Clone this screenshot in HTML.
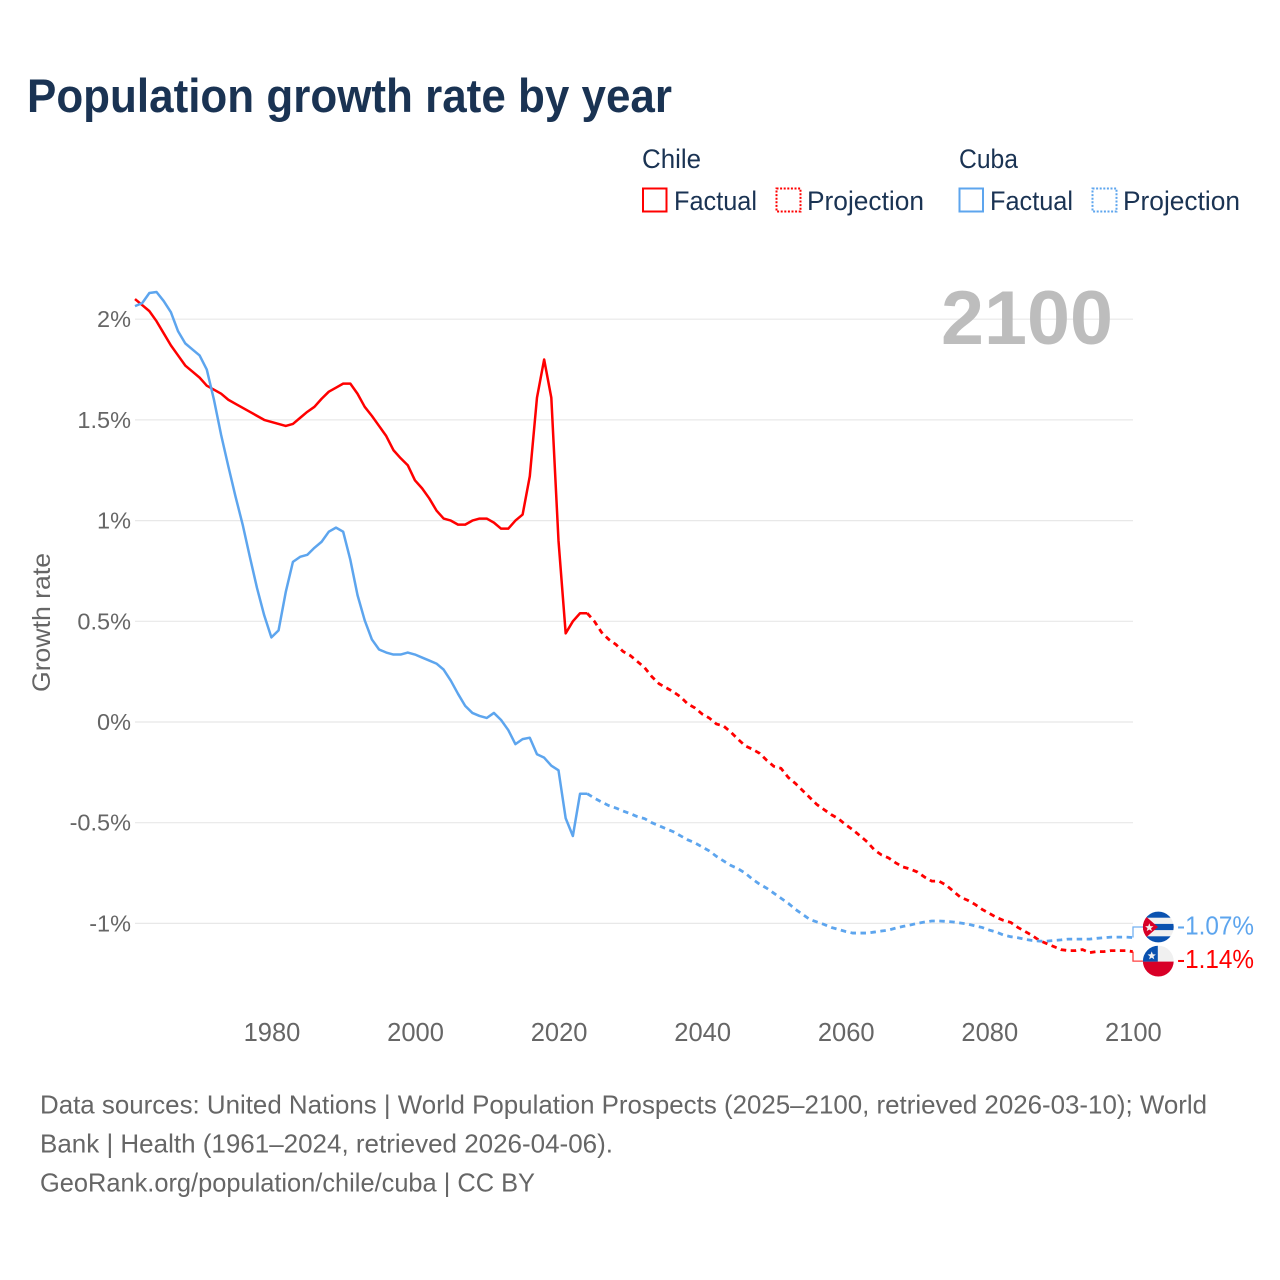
<!DOCTYPE html>
<html lang="en">
<head>
<meta charset="utf-8">
<title>Population growth rate by year</title>
<style>
  html, body { margin: 0; padding: 0; background: #fff; }
  svg { display: block; font-family: "Liberation Sans", sans-serif; }
</style>
</head>
<body>
<svg id="chart" xmlns="http://www.w3.org/2000/svg" width="1280" height="1280" viewBox="0 0 1280 1280">
  <rect x="0" y="0" width="1280" height="1280" fill="#ffffff"/>
  <defs>
    <clipPath id="clip-cuba-flag"><circle id="cuba-clip-circle" cx="1158.3" cy="927" r="15.4"/></clipPath>
    <clipPath id="clip-chile-flag"><circle id="chile-clip-circle" cx="1158.3" cy="961" r="15.4"/></clipPath>
  </defs>

  <text x="27" y="112" font-size="47" font-weight="700" fill="#1a3353" textLength="645" lengthAdjust="spacingAndGlyphs">Population growth rate by year</text>

  <g font-size="26.5" fill="#1a3353">
    <text x="642" y="168" textLength="59" lengthAdjust="spacingAndGlyphs">Chile</text>
    <text x="959" y="168" textLength="59" lengthAdjust="spacingAndGlyphs">Cuba</text>
    <rect x="643" y="188.5" width="23.5" height="23" fill="none" stroke="#ff0000" stroke-width="2"/>
    <text x="674" y="210" textLength="83" lengthAdjust="spacingAndGlyphs">Factual</text>
    <rect x="776.5" y="188.5" width="24" height="23" fill="none" stroke="#ff0000" stroke-width="2" stroke-dasharray="2 1.6"/>
    <text x="807" y="210" textLength="117" lengthAdjust="spacingAndGlyphs">Projection</text>
    <rect x="959.5" y="188.5" width="23.5" height="23" fill="none" stroke="#5da5ee" stroke-width="2"/>
    <text x="990" y="210" textLength="83" lengthAdjust="spacingAndGlyphs">Factual</text>
    <rect x="1092.5" y="188.5" width="24" height="23" fill="none" stroke="#5da5ee" stroke-width="2" stroke-dasharray="2 1.6"/>
    <text x="1123" y="210" textLength="117" lengthAdjust="spacingAndGlyphs">Projection</text>
  </g>

  <text transform="translate(50,622.5) rotate(-90)" text-anchor="middle" font-size="25" fill="#666666" textLength="139" lengthAdjust="spacingAndGlyphs">Growth rate</text>
  <g id="grid"></g>
  <g id="y-ticks"></g>
  <g id="x-ticks"></g>

  <text x="941" y="344" font-size="76" font-weight="700" fill="#bdbdbd" textLength="172" lengthAdjust="spacingAndGlyphs">2100</text>

  <g id="series"></g>

  <g id="cuba-flag" clip-path="url(#clip-cuba-flag)"></g>
  <g id="chile-flag" clip-path="url(#clip-chile-flag)"></g>
  <g id="end-labels"></g>

  <g font-size="26" fill="#666666">
    <text x="40" y="1113.5" textLength="1167" lengthAdjust="spacingAndGlyphs">Data sources: United Nations | World Population Prospects (2025–2100, retrieved 2026-03-10); World</text>
    <text x="40" y="1152.5" textLength="573" lengthAdjust="spacingAndGlyphs">Bank | Health (1961–2024, retrieved 2026-04-06).</text>
    <text x="40" y="1191.5" textLength="495" lengthAdjust="spacingAndGlyphs">GeoRank.org/population/chile/cuba | CC BY</text>
  </g>
</svg>

<script>
const factualStartYear = 1961;
const projectionStartYear = 2024;

const chileFactual = [2.10,2.07,2.04,1.99,1.93,1.87,1.82,1.77,1.74,1.71,1.67,1.65,1.63,1.60,1.58,1.56,1.54,1.52,1.50,1.49,1.48,1.47,1.48,1.51,1.54,1.565,1.605,1.64,1.66,1.68,1.68,1.63,1.565,1.52,1.47,1.42,1.35,1.31,1.275,1.20,1.16,1.11,1.05,1.01,1.00,0.98,0.98,1.00,1.01,1.01,0.99,0.96,0.96,1.00,1.03,1.22,1.61,1.80,1.61,0.90,0.44,0.50,0.54,0.54];

const chileProjection = [0.54,0.50,0.445,0.41,0.385,0.35,0.33,0.30,0.27,0.225,0.19,0.17,0.15,0.125,0.09,0.07,0.04,0.02,-0.01,-0.02,-0.05,-0.085,-0.118,-0.135,-0.155,-0.19,-0.22,-0.23,-0.275,-0.305,-0.34,-0.375,-0.41,-0.435,-0.46,-0.48,-0.51,-0.535,-0.565,-0.595,-0.635,-0.66,-0.675,-0.70,-0.72,-0.73,-0.745,-0.77,-0.79,-0.79,-0.81,-0.84,-0.87,-0.885,-0.905,-0.93,-0.95,-0.97,-0.985,-0.995,-1.02,-1.04,-1.06,-1.085,-1.10,-1.115,-1.13,-1.135,-1.135,-1.13,-1.145,-1.14,-1.14,-1.135,-1.135,-1.135,-1.14];

const cubaFactual = [2.065,2.08,2.13,2.135,2.09,2.035,1.94,1.88,1.85,1.82,1.75,1.60,1.425,1.27,1.12,0.98,0.82,0.665,0.53,0.42,0.455,0.645,0.795,0.82,0.83,0.865,0.895,0.945,0.965,0.945,0.805,0.63,0.505,0.41,0.36,0.345,0.335,0.335,0.345,0.335,0.32,0.305,0.29,0.26,0.205,0.14,0.08,0.045,0.03,0.02,0.045,0.01,-0.04,-0.11,-0.085,-0.078,-0.16,-0.177,-0.217,-0.24,-0.478,-0.566,-0.356,-0.356];

const cubaProjection = [-0.356,-0.378,-0.397,-0.415,-0.427,-0.442,-0.455,-0.47,-0.48,-0.50,-0.515,-0.53,-0.545,-0.565,-0.585,-0.60,-0.62,-0.64,-0.667,-0.69,-0.712,-0.728,-0.75,-0.78,-0.805,-0.825,-0.85,-0.875,-0.90,-0.93,-0.955,-0.98,-0.993,-1.005,-1.02,-1.03,-1.04,-1.048,-1.048,-1.048,-1.043,-1.038,-1.033,-1.023,-1.015,-1.008,-1.0,-0.993,-0.988,-0.988,-0.99,-0.993,-0.998,-1.003,-1.012,-1.02,-1.033,-1.043,-1.058,-1.066,-1.071,-1.079,-1.085,-1.088,-1.088,-1.085,-1.082,-1.078,-1.078,-1.078,-1.078,-1.074,-1.071,-1.068,-1.068,-1.068,-1.07];

const yTickValues = [2, 1.5, 1, 0.5, 0, -0.5, -1];
const yTickLabels = ["2%", "1.5%", "1%", "0.5%", "0%", "-0.5%", "-1%"];
const xTickYears = [1980, 2000, 2020, 2040, 2060, 2080, 2100];
const endLabelCuba = "-1.07%";
const endLabelChile = "-1.14%";

const CHILE_COLOR = "#ff0000";
const CUBA_COLOR = "#5da5ee";
const NS = "http://www.w3.org/2000/svg";

function xScale(year) { return 135 + (year - 1961) * 7.178; }
function yScale(v) { return 722 - v * 201.4; }

function make(tag, attrs, parent, text) {
  const el = document.createElementNS(NS, tag);
  for (const k in attrs) el.setAttribute(k, attrs[k]);
  if (text !== undefined) el.textContent = text;
  parent.appendChild(el);
  return el;
}

function linePath(values, startYear) {
  return values.map(function (v, i) {
    return (i ? "L" : "M") + xScale(startYear + i).toFixed(2) + " " + yScale(v).toFixed(2);
  }).join(" ");
}

const grid = document.getElementById("grid");
const yTicks = document.getElementById("y-ticks");
const xTicks = document.getElementById("x-ticks");
const series = document.getElementById("series");
const endLabels = document.getElementById("end-labels");

yTickValues.forEach(function (v, i) {
  const gl = make("line", { x1: 135, x2: 1133, y1: yScale(v), y2: yScale(v), stroke: "#e8e8e8", "stroke-width": 1.2 }, grid);
  
  
  const t = make("text", { x: 131, y: yScale(v) + 8, "text-anchor": "end", "font-size": 23.5, fill: "#666666" }, yTicks, yTickLabels[i]);
  
  
});

xTickYears.forEach(function (yr) {
  const t = make("text", { x: xScale(yr) + 0.6, y: 1041, "text-anchor": "middle", "font-size": 25.5, fill: "#666666" }, xTicks, String(yr));
  
  
});

const chileFactualLine = make("path", { d: linePath(chileFactual, factualStartYear), fill: "none", stroke: CHILE_COLOR, "stroke-width": 2.5, "stroke-linejoin": "round" }, series);



const cubaFactualLine = make("path", { d: linePath(cubaFactual, factualStartYear), fill: "none", stroke: CUBA_COLOR, "stroke-width": 2.5, "stroke-linejoin": "round" }, series);



const chileProjectionLine = make("path", { d: linePath(chileProjection, projectionStartYear), fill: "none", stroke: CHILE_COLOR, "stroke-width": 2.8, "stroke-dasharray": "5.5 4.5" }, series);



const cubaProjectionLine = make("path", { d: linePath(cubaProjection, projectionStartYear), fill: "none", stroke: CUBA_COLOR, "stroke-width": 2.8, "stroke-dasharray": "5.5 4.5" }, series);



const lastCuba = yScale(cubaProjection[cubaProjection.length - 1]);
const lastChile = yScale(chileProjection[chileProjection.length - 1]);
const cubaFlagY = lastCuba - 10.5;
const chileFlagY = lastChile + 9.5;

const cubaConn = make("path", { d: "M1133 " + lastCuba + " V" + cubaFlagY + " H1144", fill: "none", stroke: CUBA_COLOR, "stroke-width": 1.3, opacity: 0.85 }, series);



const chileConn = make("path", { d: "M1133 " + lastChile + " V" + chileFlagY + " H1144", fill: "none", stroke: CHILE_COLOR, "stroke-width": 1.3, opacity: 0.75 }, series);



function starPoints(cx, cy, r) {
  const pts = [];
  for (let i = 0; i < 10; i++) {
    const a = -Math.PI / 2 + i * Math.PI / 5;
    const rr = i % 2 ? r * 0.42 : r;
    pts.push((cx + rr * Math.cos(a)).toFixed(2) + "," + (cy + rr * Math.sin(a)).toFixed(2));
  }
  return pts.join(" ");
}

const cubaFlag = document.getElementById("cuba-flag");
document.getElementById("cuba-clip-circle").setAttribute("cy", cubaFlagY);
make("rect", { x: 1142, y: cubaFlagY - 16, width: 33, height: 32, fill: "#f0f0f0" }, cubaFlag);
make("rect", { x: 1142, y: cubaFlagY - 16, width: 33, height: 6.7, fill: "#0a52b0" }, cubaFlag);
make("rect", { x: 1142, y: cubaFlagY - 3.1, width: 33, height: 6.2, fill: "#0a52b0" }, cubaFlag);
make("rect", { x: 1142, y: cubaFlagY + 9.3, width: 33, height: 6.7, fill: "#0a52b0" }, cubaFlag);
make("polygon", { points: "1142," + (cubaFlagY - 14) + " 1158," + cubaFlagY + " 1142," + (cubaFlagY + 14), fill: "#d80027" }, cubaFlag);
make("polygon", { points: starPoints(1149.3, cubaFlagY + 0.6, 4.4), fill: "#f0f0f0" }, cubaFlag);

const chileFlag = document.getElementById("chile-flag");
document.getElementById("chile-clip-circle").setAttribute("cy", chileFlagY);
make("rect", { x: 1142, y: chileFlagY - 16, width: 33, height: 16.5, fill: "#f0f0f0" }, chileFlag);
make("rect", { x: 1142, y: chileFlagY + 0.5, width: 33, height: 16, fill: "#d80027" }, chileFlag);
make("rect", { x: 1142, y: chileFlagY - 16, width: 15.8, height: 16.5, fill: "#0a52b0" }, chileFlag);
make("polygon", { points: starPoints(1151.7, chileFlagY - 5.3, 4.4), fill: "#f0f0f0" }, chileFlag);

const cubaEnd = make("text", { x: 1177, y: cubaFlagY + 7.5, "font-size": 25.5, fill: CUBA_COLOR, textLength: 77, lengthAdjust: "spacingAndGlyphs" }, endLabels, endLabelCuba);



const chileEnd = make("text", { x: 1177, y: chileFlagY + 7, "font-size": 25.5, fill: CHILE_COLOR, textLength: 77, lengthAdjust: "spacingAndGlyphs" }, endLabels, endLabelChile);


</script>
</body>
</html>
